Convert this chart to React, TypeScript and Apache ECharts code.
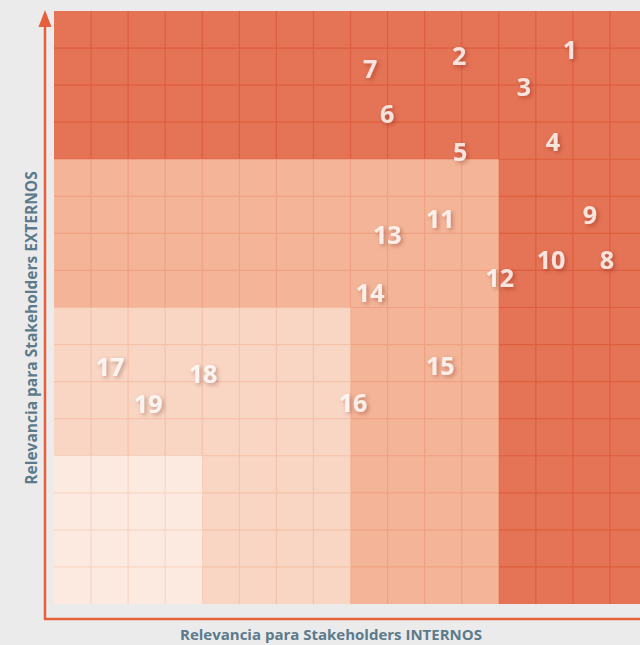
import React, { useEffect, useRef } from "react";
import * as echarts from "echarts";

// Zone extents (in grid units, square zones anchored at the origin)
const zoneMax = [16, 12, 8, 4];
const zoneFill = ["#e57355", "#f4b497", "#f9d6c4", "#fceae0"];
const zoneLine = ["#dd5f3f", "#efa183", "#f4c2a9", "#f8d5c4"];

// Topic numbers and their positions (internal relevance, external relevance)
const topics = ["1", "2", "3", "4", "5", "6", "7", "8", "9", "10", "11", "12", "13", "14", "15", "16", "17", "18", "19"];
const internal = [13.92, 10.93, 12.68, 13.46, 10.96, 8.99, 8.53, 14.92, 14.46, 13.41, 10.42, 12.03, 8.99, 8.53, 10.42, 8.07, 1.51, 4.02, 2.54];
const external = [14.98, 14.81, 13.98, 12.49, 12.22, 13.25, 14.46, 9.31, 10.52, 9.31, 10.42, 8.82, 9.98, 8.42, 6.45, 5.45, 6.42, 6.23, 5.42];

const xTitle = "Relevancia para Stakeholders INTERNOS";
const yTitle = "Relevancia para Stakeholders EXTERNOS";

export default function App() {
  const ref = useRef<HTMLDivElement>(null);
  useEffect(() => {
    if (!ref.current) return;
    const chart = echarts.init(ref.current, undefined, { renderer: "svg" });
    const axisColor = "#e55f3c";
    const titleColor = "#5b7a8b";
    chart.setOption({
      animation: false,
      backgroundColor: "#ebebeb",
      grid: { left: 54, top: 11, width: 593, height: 593 },
      xAxis: {
        type: "value", min: 0, max: 16, interval: 1,
        axisLine: { show: false }, axisTick: { show: false }, axisLabel: { show: false }, splitLine: { show: false },
      },
      yAxis: {
        type: "value", min: 0, max: 16, interval: 1,
        axisLine: { show: false }, axisTick: { show: false }, axisLabel: { show: false }, splitLine: { show: false },
      },
      series: [
        {
          type: "custom",
          silent: true,
          encode: { x: 0, y: 1 },
          data: zoneMax.map((m) => [m, m]),
          renderItem: (params: any, api: any) => {
            const m = api.value(0);
            const i = params.dataIndex;
            const p0 = api.coord([0, 0]);
            const p1 = api.coord([m, m]);
            const children: any[] = [
              {
                type: "rect",
                shape: { x: p0[0], y: p1[1], width: p1[0] - p0[0], height: p0[1] - p1[1] },
                style: { fill: zoneFill[i] },
              },
            ];
            for (let k = 1; k < m; k++) {
              const a = api.coord([k, 0]);
              const b = api.coord([k, m]);
              children.push({
                type: "line",
                shape: { x1: a[0], y1: a[1], x2: b[0], y2: b[1] },
                style: { stroke: zoneLine[i], lineWidth: 1.2 },
              });
              const c = api.coord([0, k]);
              const d = api.coord([m, k]);
              children.push({
                type: "line",
                shape: { x1: c[0], y1: c[1], x2: d[0], y2: d[1] },
                style: { stroke: zoneLine[i], lineWidth: 1.2 },
              });
            }
            return { type: "group", children };
          },
        },
        {
          type: "scatter",
          symbolSize: 0,
          silent: true,
          data: topics.map((t, i) => ({ name: t, value: [internal[i], external[i]] })),
          label: {
            show: true,
            position: "inside",
            formatter: "{b}",
            color: "#ffffff",
            fontSize: 25,
            fontWeight: "bold",
            fontFamily: "Open Sans",
            textShadowColor: "rgba(90,30,10,0.4)",
            textShadowBlur: 4,
            textShadowOffsetX: 2,
            textShadowOffsetY: 2,
          },
        },
      ],
      graphic: [
        { type: "line", shape: { x1: 45, y1: 620, x2: 45, y2: 22 }, style: { stroke: axisColor, lineWidth: 2.5 } },
        { type: "polygon", shape: { points: [[45, 10], [38.5, 27], [51.5, 27]] }, style: { fill: axisColor } },
        { type: "line", shape: { x1: 44, y1: 619, x2: 660, y2: 619 }, style: { stroke: axisColor, lineWidth: 2.5 } },
        {
          type: "text",
          x: 331, y: 634,
          style: {
            text: xTitle, fill: titleColor, font: "bold 15px 'Open Sans'",
            align: "center", verticalAlign: "middle",
          },
        },
        {
          type: "text",
          x: 31, y: 328,
          rotation: Math.PI / 2,
          style: {
            text: yTitle, fill: titleColor, font: "bold 15.5px 'Open Sans'",
            align: "center", verticalAlign: "middle",
          },
        },
      ],
    });
    return () => chart.dispose();
  }, []);
  return (
    <div style={{ position: "fixed", left: 0, top: 0, width: 640, height: 645, overflow: "hidden" }}>
      <div ref={ref} style={{ width: 670, height: 645 }} />
    </div>
  );
}
